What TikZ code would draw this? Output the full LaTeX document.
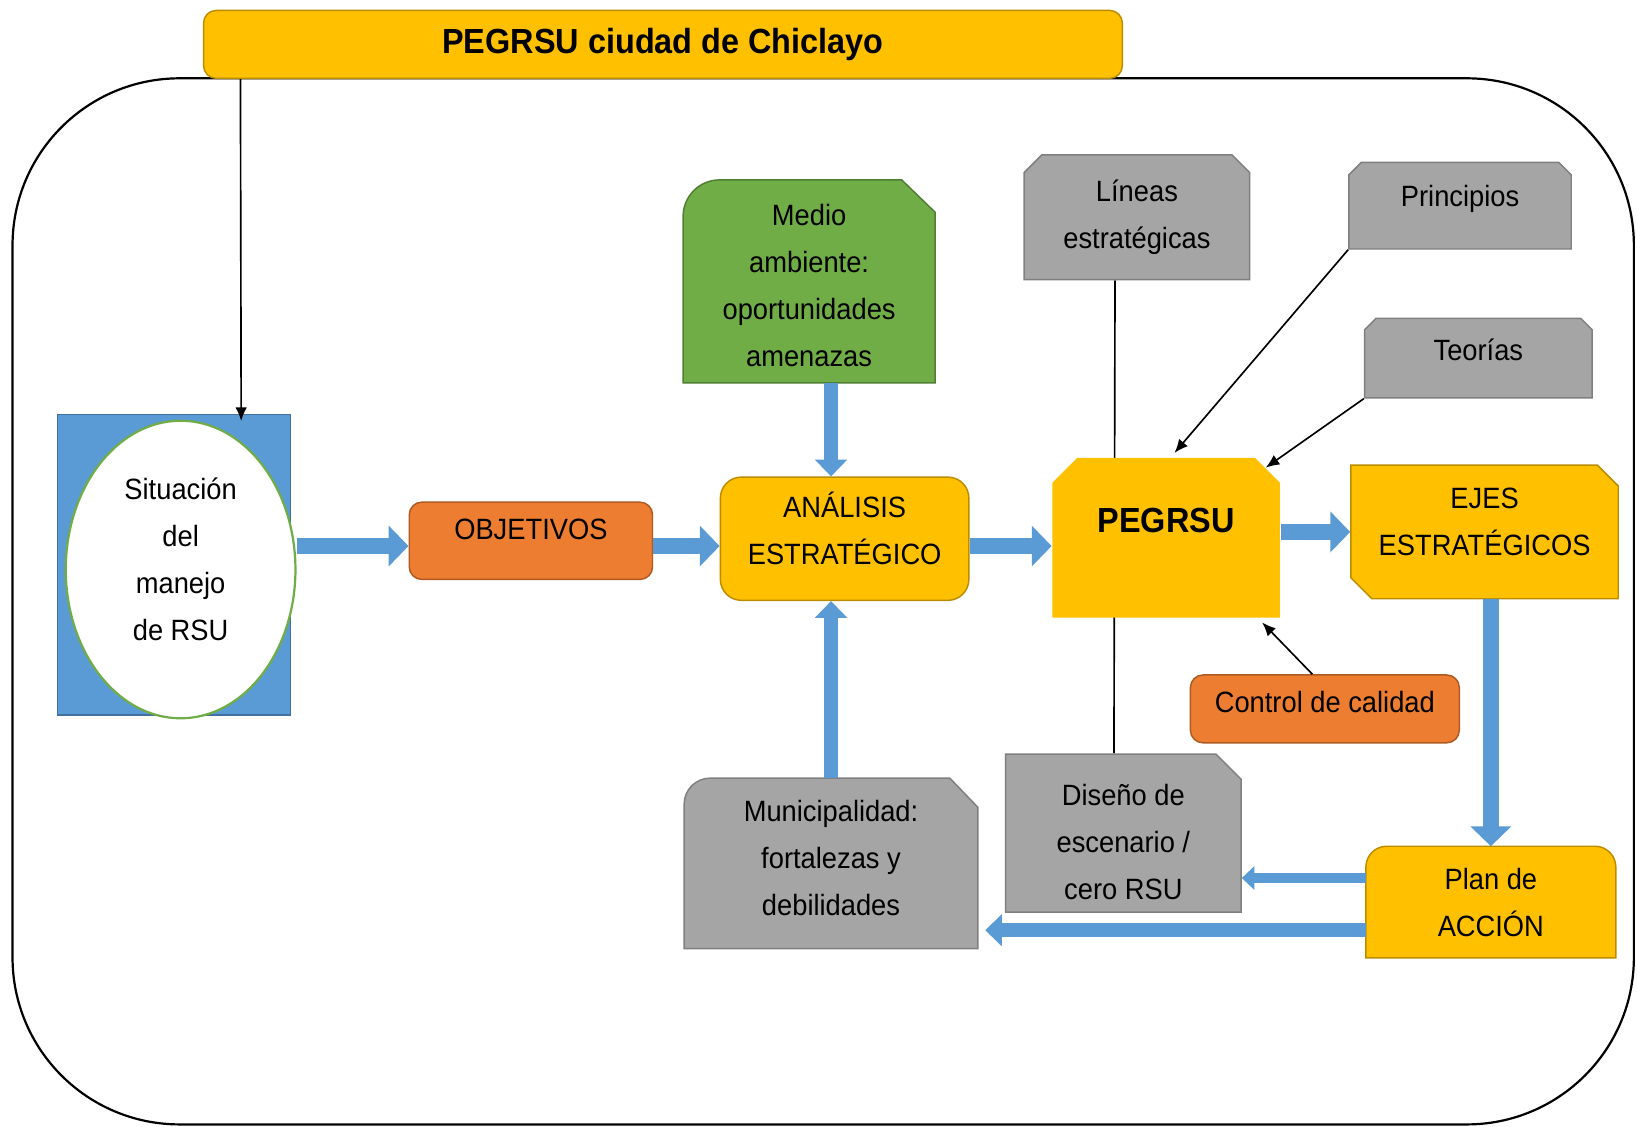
\documentclass[tikz,border=0pt]{standalone}
\usepackage{fontspec}
\setmainfont{Liberation Sans}[FakeStretch=0.93]
\usetikzlibrary{shapes.geometric, shapes.misc, arrows.meta, backgrounds}

\definecolor{cgold}{HTML}{FFC000}
\definecolor{cgoldline}{HTML}{BC8C00}
\definecolor{corange}{HTML}{ED7D31}
\definecolor{corangeline}{HTML}{AE5A21}
\definecolor{cblue}{HTML}{5B9BD5}
\definecolor{cblueline}{HTML}{41719C}
\definecolor{cgrey}{HTML}{A5A5A5}
\definecolor{cgreyline}{HTML}{7F7F7F}
\definecolor{cgreen}{HTML}{70AD47}
\definecolor{cgreenline}{HTML}{507E32}

\tikzset{
  txt/.style={align=center, inner sep=0pt, font=\fontsize{8}{12.8}\selectfont},
  goldbox/.style={txt, fill=cgold, draw=cgoldline, line width=0.4pt},
  orangebox/.style={txt, fill=corange, draw=corangeline, line width=0.4pt, rounded corners=0.12cm},
  greybox/.style={txt, fill=cgrey, draw=cgreyline, line width=0.4pt},
  snip/.style={chamfered rectangle, chamfered rectangle xsep=#1, chamfered rectangle ysep=#1},
  bigarrow/.style={draw=cblue, line width=0.16cm, -{Triangle[length=0.19cm, width=0.38cm]}},
  vbar/.style={draw=cblue, line width=0.13cm, -{Triangle[length=0.16cm, width=0.3cm]}},
  smallbar/.style={draw=cblue, line width=0.1cm, -{Triangle[length=0.12cm, width=0.22cm]}},
  conn/.style={line width=0.45pt, -{Latex[length=1.3mm, width=1.1mm]}}
}

\begin{document}
\begin{tikzpicture}
        \useasboundingbox (0,0) rectangle (15.68,-10.79);
        % frame
        \draw[line width=0.6pt, rounded corners=1.6cm] (0.12,-0.75) rectangle (15.65,-10.77);

        \node[goldbox, rounded corners=0.12cm, minimum width=8.8cm, minimum height=0.65cm, font=\fontsize{9.5}{12}\selectfont\bfseries] (title) at (6.35,-0.425) {PEGRSU ciudad de Chiclayo};

        % left side
        \node[draw=cblueline, fill=cblue, minimum width=2.23cm, minimum height=2.88cm] (sitbox) at (1.665,-5.41) {};
        \node[txt, ellipse, draw=cgreen, fill=white, line width=0.6pt, minimum width=2.2cm, minimum height=2.85cm, text depth=0.19cm] (sit) at (1.73,-5.455) {Situación\\del\\manejo\\de RSU};
        \node[orangebox, minimum width=2.33cm, minimum height=0.74cm, text depth=0.22cm] (obj) at (5.085,-5.18) {OBJETIVOS};
        \node[goldbox, rounded corners=0.2cm, minimum width=2.38cm, minimum height=1.18cm, text depth=0.2cm] (ana) at (8.09,-5.16) {ANÁLISIS\\ESTRATÉGICO};
        \node[txt, minimum width=2.4cm, minimum height=1.93cm, text height=1.64cm] (medio) at (7.75,-2.695) {Medio\\ambiente:\\oportunidades\\amenazas};
        \node[txt, minimum width=2.8cm, minimum height=1.62cm, text depth=0.11cm] (muni) at (7.96,-8.27) {Municipalidad:\\fortalezas y\\debilidades};

        % right side
        \node[goldbox, draw=none, snip=0.12cm, chamfered rectangle corners={north west, north east}, minimum width=2.18cm, minimum height=1.53cm, text depth=0.34cm, font=\fontsize{9.5}{12}\selectfont\bfseries] (peg) at (11.17,-5.15) {PEGRSU};
        \node[goldbox, snip=0.1cm, chamfered rectangle corners={north east, south west}, minimum width=2.56cm, minimum height=1.28cm, text depth=0.2cm] (ejes) at (14.22,-5.095) {EJES\\ESTRATÉGICOS};
        \node[txt, minimum width=2.38cm, minimum height=1.055cm] (plan) at (14.28,-8.64) {Plan de\\ACCIÓN};
        \node[greybox, snip=0.12cm, chamfered rectangle corners=north east, minimum width=2.255cm, minimum height=1.48cm, text height=1.27cm] (diseno) at (10.76,-7.98) {Diseño de\\escenario /\\cero RSU};
        \node[greybox, snip=0.085cm, chamfered rectangle corners={north west, north east}, minimum width=2.16cm, minimum height=1.195cm] (lineas) at (10.89,-2.08) {Líneas\\estratégicas};
        \node[greybox, snip=0.06cm, chamfered rectangle corners={north west, north east}, minimum width=2.13cm, minimum height=0.83cm, text depth=0.18cm] (princ) at (13.985,-1.97) {Principios};
        \node[greybox, snip=0.055cm, chamfered rectangle corners={north west, north east}, minimum width=2.18cm, minimum height=0.763cm, text depth=0.16cm] (teor) at (14.16,-3.43) {Teorías};
        \node[orangebox, minimum width=2.575cm, minimum height=0.65cm, text depth=0.14cm] (ctrl) at (12.69,-6.79) {Control de calidad};

        \begin{scope}[on background layer]
            \filldraw[fill=cgreen, draw=cgreenline, line width=0.4pt] (medio.south west) -- ([yshift=-0.35cm]medio.north west) arc[start angle=180, end angle=90, radius=0.35cm] -- ([xshift=-0.32cm]medio.north east) -- ([yshift=-0.31cm]medio.north east) -- (medio.south east) -- cycle;
            \filldraw[fill=cgrey, draw=cgreyline, line width=0.4pt] (muni.south west) -- ([yshift=-0.25cm]muni.north west) arc[start angle=180, end angle=90, radius=0.25cm] -- ([xshift=-0.27cm]muni.north east) -- ([yshift=-0.28cm]muni.north east) -- (muni.south east) -- cycle;
            \filldraw[fill=cgold, draw=cgoldline, line width=0.4pt] (plan.south west) -- ([yshift=-0.2cm]plan.north west) arc[start angle=180, end angle=90, radius=0.2cm] -- ([xshift=-0.2cm]plan.north east) arc[start angle=90, end angle=0, radius=0.2cm] -- (plan.south east) -- cycle;
            \draw[line width=0.45pt] ([xshift=-0.21cm]lineas.south) -- ([xshift=-0.09cm]diseno.north);
        \end{scope}

        % thin arrows
        \draw[conn] ([xshift=0.36cm]title.south west) -- ([xshift=0.645cm, yshift=-0.07cm]sitbox.north);
        \draw[conn] (princ.south west) -- ([xshift=0.08cm, yshift=0.04cm]peg.north);
        \draw[conn] (teor.south west) -- (peg);
        \draw[conn] ([xshift=-0.12cm]ctrl.north) -- ([xshift=0.92cm, yshift=-0.04cm]peg.south);

        % block arrows
        \coordinate (mid) at ([yshift=-0.07cm]ana.east);
        \draw[bigarrow] (sit.east |- mid) -- (obj.west |- mid);
        \draw[bigarrow] (obj.east |- mid) -- (ana.west |- mid);
        \draw[bigarrow] (mid) -- (peg.west |- mid);
        \draw[bigarrow] (peg.east |- ejes.west) -- (ejes.west);
        \draw[bigarrow] (ejes.south -| plan.north) -- (plan.north);
        \draw[vbar] (medio.south -| muni.north) -- (ana.north -| muni.north);
        \draw[vbar] (muni.north) -- (ana.south -| muni.north);
        \coordinate (pd) at ([yshift=0.23cm]plan.west);
        \draw[smallbar] (pd) -- (diseno.east |- pd);
        \coordinate (pm) at ([yshift=-0.27cm]plan.west);
        \draw[vbar, shorten >=0.07cm] (pm) -- (muni.east |- pm);
\end{tikzpicture}
\end{document}
